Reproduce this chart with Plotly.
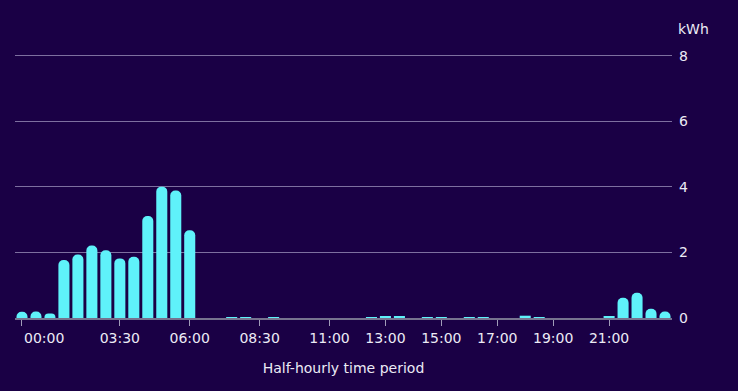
import plotly.graph_objects as go

periods = [f"{h:02d}:{m:02d}" for h in range(24) for m in (0, 30)][:47]
consumption = [0.19, 0.20, 0.14, 1.77, 1.94, 2.21, 2.07, 1.82, 1.87, 3.11, 4.01, 3.89, 2.68,
               0.0, 0.0, 0.03, 0.03, 0.0, 0.03, 0.0, 0.0, 0.0, 0.0, 0.0, 0.0,
               0.03, 0.06, 0.05, 0.0, 0.03, 0.02, 0.0, 0.03, 0.03, 0.0, 0.0,
               0.07, 0.03, 0.0, 0.0, 0.0, 0.0, 0.04, 0.62, 0.77, 0.28, 0.20]
tick_labels = ["00:00", "03:30", "06:00", "08:30", "11:00", "13:00", "15:00", "17:00", "19:00", "21:00"]
y_ticks = [0, 2, 4, 6, 8]

BG = "#1a0045"
TEXT = "#ecebf5"
BAR = "#5ff2fa"
FONT = "DejaVu Sans"

big = [v if v >= 0.1 else None for v in consumption]
tiny = [v if (v < 0.1 and v > 0) else None for v in consumption]

fig = go.Figure()
fig.add_trace(go.Bar(
    x=periods, y=big,
    marker=dict(color=BAR, line=dict(width=0), cornerradius=6),
    width=0.79,
))
fig.add_trace(go.Bar(
    x=periods, y=tiny,
    marker=dict(color=BAR, line=dict(width=0)),
    width=0.79,
))

# first label is drawn as an annotation nudged right so it stays inside the chart
tick_text = [""] + tick_labels[1:]

fig.update_layout(
    width=738, height=391,
    paper_bgcolor=BG, plot_bgcolor=BG,
    margin=dict(l=15, r=66, t=51, b=73),
    font=dict(family=FONT, color=TEXT, size=14),
    showlegend=False, barmode="overlay",
)
fig.update_xaxes(
    type="category", categoryorder="array", categoryarray=periods,
    tickmode="array", tickvals=tick_labels, ticktext=tick_text,
    ticks="outside", ticklen=6, tickcolor="#a09cb8", tickwidth=1,
    showline=True, linecolor="#77738f", linewidth=2, layer="below traces",
    showgrid=False, zeroline=False, automargin=False,
    tickfont=dict(size=14, color=TEXT, family=FONT),
    title=dict(text="Half-hourly time period", font=dict(size=14, color=TEXT, family=FONT), standoff=18),
)
fig.update_yaxes(
    side="right", range=[0, 8.15], tickvals=y_ticks,
    showgrid=True, gridcolor="#7d6f9f", gridwidth=1,
    zeroline=False, showline=False, ticks="", automargin=False,
    tickfont=dict(size=14, color=TEXT, family=FONT), ticklabelstandoff=6,
)
fig.add_annotation(
    x=tick_labels[0], y=0, xref="x", yref="paper", text=tick_labels[0], showarrow=False,
    xanchor="center", yanchor="middle", xshift=22, yshift=-19.5,
    font=dict(size=14, color=TEXT, family=FONT),
)
fig.add_annotation(
    x=1, y=1, xref="paper", yref="paper", text="kWh", showarrow=False,
    xanchor="left", yanchor="bottom", xshift=4, yshift=12,
    font=dict(size=14, color=TEXT, family=FONT),
)

fig.write_html(
    "out.html",
    config={"displayModeBar": False},
    post_script="document.body.style.margin='0';document.body.style.background='" + BG + "';",
)
